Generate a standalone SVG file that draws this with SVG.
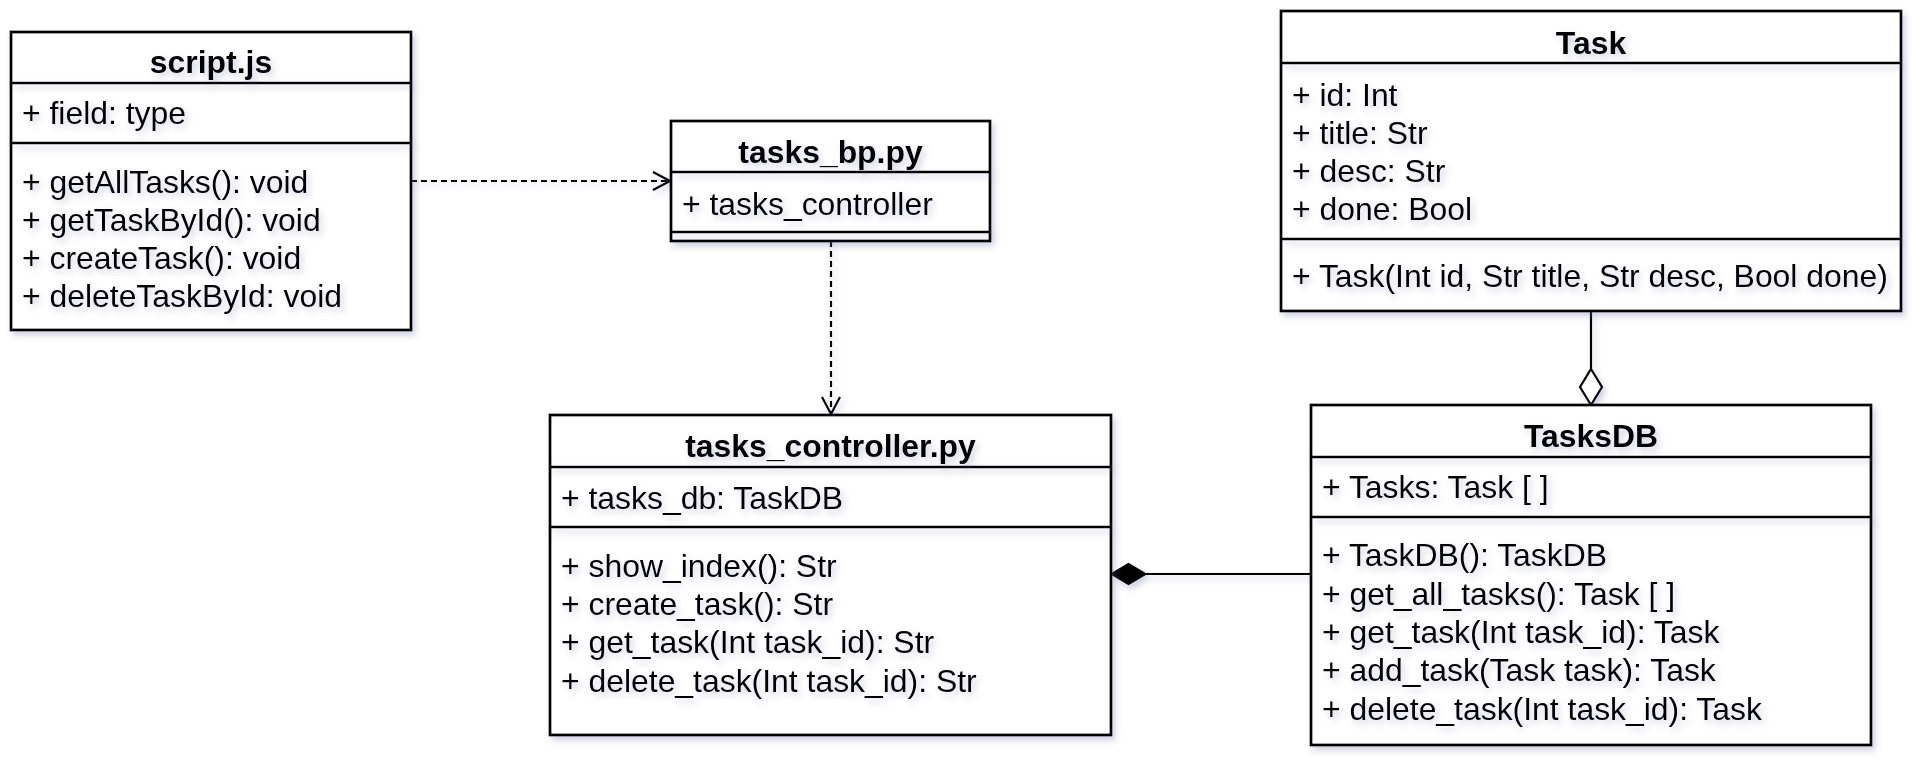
<svg xmlns="http://www.w3.org/2000/svg" width="1924" height="774" viewBox="0 0 1924 774">
<defs>
<filter id="sh" filterUnits="userSpaceOnUse" x="0" y="0" width="1924" height="774">
<feDropShadow dx="3" dy="4" stdDeviation="3" flood-color="#6f6fa0" flood-opacity="0.32"/>
</filter>
<marker id="openArrow" markerUnits="userSpaceOnUse" markerWidth="20" markerHeight="22" viewBox="0 0 20 22" refX="18" refY="11" orient="auto">
<path d="M1,2 L18,11 L1,20" fill="none" stroke="#000" stroke-width="2.2"/>
</marker>
<marker id="filledDiamond" markerUnits="userSpaceOnUse" markerWidth="38" markerHeight="24" viewBox="0 0 38 24" refX="36" refY="12" orient="auto">
<path d="M1,12 L18.5,1.5 L36,12 L18.5,22.5 Z" fill="#000" stroke="#000" stroke-width="1.5"/>
</marker>
<marker id="openDiamond" markerUnits="userSpaceOnUse" markerWidth="40" markerHeight="26" viewBox="0 0 40 26" refX="37" refY="13" orient="auto">
<path d="M1,13 L19,2 L37,13 L19,24 Z" fill="#fff" stroke="#000" stroke-width="2.2"/>
</marker>
</defs>
<style>
.box{fill:#fff;stroke:#000;stroke-width:2.7;filter:url(#sh)}
.div{stroke:#000;stroke-width:2.7;filter:url(#sh)}
.t{font-family:"Liberation Sans",Arial,sans-serif;font-size:31.9px;fill:#000;filter:url(#sh)}
.title{font-weight:bold;text-anchor:middle}
.dash{fill:none;stroke:#000;stroke-width:2.2;stroke-dasharray:6 4;filter:url(#sh)}
.solid{fill:none;stroke:#000;stroke-width:2.2;filter:url(#sh)}
</style>
<rect x="0" y="0" width="1924" height="774" fill="#fff"/>

<g id="connectors">
<path class="dash" d="M411,181 L670,181" marker-end="url(#openArrow)"/>
<path class="dash" d="M831,241 L831,414" marker-end="url(#openArrow)"/>
<path class="solid" d="M1311,574 L1111,574" marker-end="url(#filledDiamond)"/>
<path class="solid" d="M1591,311 L1591,405" marker-end="url(#openDiamond)"/>
</g>

<g id="script_js">
<rect class="box" x="11" y="32" width="400" height="298"/>
<line class="div" x1="11" y1="83" x2="411" y2="83"/>
<line class="div" x1="11" y1="143" x2="411" y2="143"/>
<text class="t title" x="211" y="73">script.js</text>
<text class="t" x="22" y="124">+ field: type</text>
<text class="t" x="22" y="193">+ getAllTasks(): void</text>
<text class="t" x="22" y="231">+ getTaskById(): void</text>
<text class="t" x="22" y="269">+ createTask(): void</text>
<text class="t" x="22" y="307">+ deleteTaskById: void</text>
</g>

<g id="tasks_bp">
<rect class="box" x="671" y="121" width="319" height="120"/>
<line class="div" x1="671" y1="172" x2="990" y2="172"/>
<line class="div" x1="671" y1="232" x2="990" y2="232"/>
<text class="t title" x="830.5" y="163">tasks_bp.py</text>
<text class="t" x="682" y="215">+ tasks_controller</text>
</g>

<g id="tasks_controller">
<rect class="box" x="550" y="415" width="561" height="320"/>
<line class="div" x1="550" y1="467" x2="1111" y2="467"/>
<line class="div" x1="550" y1="527" x2="1111" y2="527"/>
<text class="t title" x="830.5" y="457">tasks_controller.py</text>
<text class="t" x="561" y="509">+ tasks_db: TaskDB</text>
<text class="t" x="561" y="577">+ show_index(): Str</text>
<text class="t" x="561" y="615">+ create_task(): Str</text>
<text class="t" x="561" y="653">+ get_task(Int task_id): Str</text>
<text class="t" x="561" y="692">+ delete_task(Int task_id): Str</text>
</g>

<g id="Task">
<rect class="box" x="1281" y="11" width="620" height="300"/>
<line class="div" x1="1281" y1="63" x2="1901" y2="63"/>
<line class="div" x1="1281" y1="239" x2="1901" y2="239"/>
<text class="t title" x="1591" y="54">Task</text>
<text class="t" x="1292" y="106">+ id: Int</text>
<text class="t" x="1292" y="144">+ title: Str</text>
<text class="t" x="1292" y="182">+ desc: Str</text>
<text class="t" x="1292" y="220">+ done: Bool</text>
<text class="t" x="1292" y="287">+ Task(Int id, Str title, Str desc, Bool done)</text>
</g>

<g id="TasksDB">
<rect class="box" x="1311" y="405" width="560" height="340"/>
<line class="div" x1="1311" y1="457" x2="1871" y2="457"/>
<line class="div" x1="1311" y1="517" x2="1871" y2="517"/>
<text class="t title" x="1591" y="447">TasksDB</text>
<text class="t" x="1322" y="498">+ Tasks: Task [ ]</text>
<text class="t" x="1322" y="566">+ TaskDB(): TaskDB</text>
<text class="t" x="1322" y="604.5">+ get_all_tasks(): Task [ ]</text>
<text class="t" x="1322" y="643">+ get_task(Int task_id): Task</text>
<text class="t" x="1322" y="681">+ add_task(Task task): Task</text>
<text class="t" x="1322" y="719.5">+ delete_task(Int task_id): Task</text>
</g>
</svg>
